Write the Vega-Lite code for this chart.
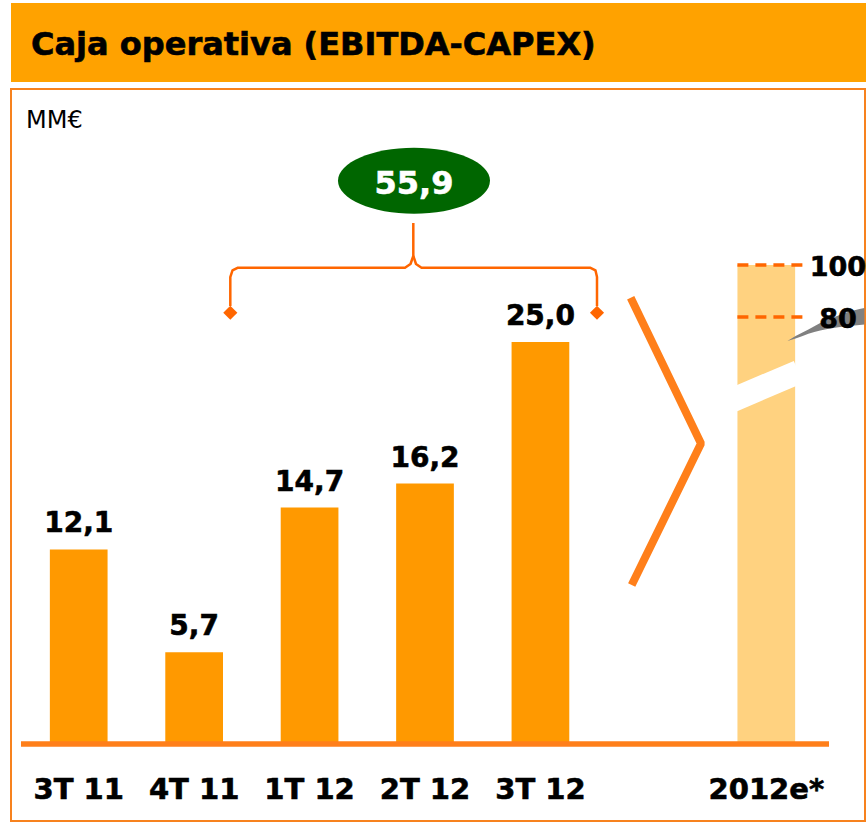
{
  "$schema": "https://vega.github.io/schema/vega-lite/v6.json",
  "padding": {"left": 10, "top": 3, "right": 0, "bottom": 0},
  "background": "white",
  "config": {
    "locale": {"number": {"decimal": ",", "thousands": ".", "grouping": [3], "currency": ["", " €"]}},
    "view": {"stroke": null},
    "font": "DejaVu Sans"
  },
  "datasets": {
    "trimestres": [
      {"periodo": "3T 11", "anio": 2011, "valor": 12.1},
      {"periodo": "4T 11", "anio": 2011, "valor": 5.7},
      {"periodo": "1T 12", "anio": 2012, "valor": 14.7},
      {"periodo": "2T 12", "anio": 2012, "valor": 16.2},
      {"periodo": "3T 12", "anio": 2012, "valor": 25.0}
    ],
    "estimacion": [
      {"periodo": "2012e*", "min": 80, "max": 100}
    ]
  },
  "spacing": 6,
  "vconcat": [
    {
      "width": 856,
      "height": 79,
      "view": {"fill": "#FFA200", "stroke": null},
      "data": {"values": [{"titulo": "Caja operativa (EBITDA-CAPEX)"}]},
      "mark": {"type": "text", "font": "DejaVu Sans", "fontWeight": "bold", "fontSize": 32, "align": "left", "baseline": "alphabetic", "color": "black", "stroke": "black", "strokeWidth": 0.6},
      "encoding": {
        "text": {"field": "titulo", "type": "nominal"},
        "x": {"value": 20},
        "y": {"value": 52}
      }
    },
    {
      "width": 854,
      "height": 732,
      "view": {"stroke": "#F7821E", "strokeWidth": 2, "fill": "white"},
      "resolve": {"scale": {"x": "independent", "y": "independent"}, "axis": {"x": "independent", "y": "independent"}},
      "layer": [
        {
          "data": {"name": "trimestres"},
          "encoding": {
            "x": {
              "field": "periodo", "type": "nominal", "sort": null,
              "scale": {"domain": ["3T 11", "4T 11", "1T 12", "2T 12", "3T 12", " ", "2012e*"], "range": [10, 818], "paddingInner": 0.5, "paddingOuter": 0.25},
              "axis": null
            },
            "y": {"field": "valor", "type": "quantitative", "scale": {"domain": [0, 25], "range": [655, 253], "nice": false, "zero": false}, "axis": null}
          },
          "layer": [
            {"mark": {"type": "bar", "color": "#FF9900"}},
            {
              "mark": {"type": "text", "font": "DejaVu Sans", "fontWeight": "bold", "fontSize": 28, "baseline": "alphabetic", "dy": -17, "color": "black", "stroke": "black", "strokeWidth": 0.6},
              "encoding": {"text": {"field": "valor", "type": "quantitative", "format": ".1f"}}
            },
            {
              "mark": {"type": "text", "font": "DejaVu Sans", "fontWeight": "bold", "fontSize": 29, "baseline": "alphabetic", "color": "black", "stroke": "black", "strokeWidth": 0.6},
              "encoding": {
                "y": {"datum": -3.4, "type": "quantitative"},
                "text": {"field": "periodo", "type": "nominal"}
              }
            }
          ]
        },
        {
          "layer": [
            {
              "data": {"name": "estimacion"},
              "mark": {"type": "bar", "color": "#FFD280", "width": 57.7},
              "encoding": {
                "x": {"datum": 6, "type": "quantitative", "scale": {"domain": [0, 6], "range": [67.71, 760.29], "nice": false, "zero": false}, "axis": null},
                "y": {"field": "max", "type": "quantitative", "scale": {"domain": [0, 80, 100], "range": [655, 228, 176], "nice": false, "zero": false}, "axis": null},
                "y2": {"datum": 0}
              }
            },
            {
              "data": {"values": [{"x": 5.703, "y": 64.43}, {"x": 6.2834, "y": 69.71}]},
              "mark": {"type": "line", "color": "white", "strokeWidth": 24, "strokeCap": "butt"},
              "encoding": {
                "x": {"field": "x", "type": "quantitative", "scale": {"domain": [0, 6], "range": [67.71, 760.29], "nice": false, "zero": false}, "axis": null},
                "y": {"field": "y", "type": "quantitative", "scale": {"domain": [0, 80, 100], "range": [655, 228, 176], "nice": false, "zero": false}, "axis": null}
              }
            },
            {
              "data": {"name": "estimacion"},
              "transform": [{"fold": ["max", "min"], "as": ["lim", "v"]}],
              "mark": {"type": "rule", "color": "#FF6600", "strokeWidth": 3.5, "strokeDash": [11, 7]},
              "encoding": {
                "x": {"datum": 5.746, "type": "quantitative", "scale": {"domain": [0, 6], "range": [67.71, 760.29], "nice": false, "zero": false}, "axis": null},
                "x2": {"datum": 6.3267},
                "y": {"field": "v", "type": "quantitative", "scale": {"domain": [0, 80, 100], "range": [655, 228, 176], "nice": false, "zero": false}, "axis": null}
              }
            },
            {
              "data": {"values": [
                {"x": 6.1855, "top": 75.5, "bottom": 75.5},
                {"x": 6.2574, "top": 76.44, "bottom": 75.97},
                {"x": 6.37, "top": 77.66, "bottom": 76.87},
                {"x": 6.474, "top": 78.88, "bottom": 77.47},
                {"x": 6.578, "top": 79.81, "bottom": 77.88},
                {"x": 6.6891, "top": 81.54, "bottom": 78.22},
                {"x": 6.8624, "top": 83.46, "bottom": 78.59}
              ]},
              "mark": {"type": "area", "color": "#808080", "opacity": 1, "interpolate": "monotone"},
              "encoding": {
                "x": {"field": "x", "type": "quantitative", "scale": {"domain": [0, 6], "range": [67.71, 760.29], "nice": false, "zero": false}, "axis": null},
                "y": {"field": "top", "type": "quantitative", "scale": {"domain": [0, 80, 100], "range": [655, 228, 176], "nice": false, "zero": false}, "axis": null},
                "y2": {"field": "bottom"}
              }
            },
            {
              "data": {"name": "estimacion"},
              "transform": [{"fold": ["max", "min"], "as": ["lim", "v"]}],
              "mark": {"type": "text", "font": "DejaVu Sans", "fontWeight": "bold", "fontSize": 27, "align": "center", "baseline": "middle", "dy": 2.5, "color": "black", "stroke": "black", "strokeWidth": 0.6},
              "encoding": {
                "x": {"datum": 6.63, "type": "quantitative", "scale": {"domain": [0, 6], "range": [67.71, 760.29], "nice": false, "zero": false}, "axis": null},
                "y": {"field": "v", "type": "quantitative", "scale": {"domain": [0, 80, 100], "range": [655, 228, 176], "nice": false, "zero": false}, "axis": null},
                "text": {"field": "v", "type": "quantitative", "format": "d"}
              }
            },
            {
              "data": {"name": "estimacion"},
              "mark": {"type": "text", "font": "DejaVu Sans", "fontWeight": "bold", "fontSize": 29, "align": "center", "baseline": "alphabetic", "color": "black", "stroke": "black", "strokeWidth": 0.6},
              "encoding": {
                "x": {"datum": 6, "type": "quantitative", "scale": {"domain": [0, 6], "range": [67.71, 760.29], "nice": false, "zero": false}, "axis": null},
                "y": {"datum": -10.25, "type": "quantitative", "scale": {"domain": [0, 80, 100], "range": [655, 228, 176], "nice": false, "zero": false}, "axis": null},
                "text": {"field": "periodo", "type": "nominal"}
              }
            }
          ]
        },
        {
          "layer": [
            {
              "data": {"values": [
                {"seg": "L", "ord": 1, "x": 1.3133, "y": 27.24},
                {"seg": "L", "ord": 2, "x": 1.3133, "y": 29.04},
                {"seg": "L", "ord": 3, "x": 1.3323, "y": 29.45},
                {"seg": "L", "ord": 4, "x": 1.38, "y": 29.62},
                {"seg": "L", "ord": 5, "x": 2.8268, "y": 29.62},
                {"seg": "L", "ord": 6, "x": 2.8744, "y": 29.85},
                {"seg": "L", "ord": 7, "x": 2.8987, "y": 30.35},
                {"seg": "L", "ord": 8, "x": 2.8987, "y": 32.4},
                {"seg": "R", "ord": 1, "x": 2.8987, "y": 30.35},
                {"seg": "R", "ord": 2, "x": 2.922, "y": 29.85},
                {"seg": "R", "ord": 3, "x": 2.9697, "y": 29.62},
                {"seg": "R", "ord": 4, "x": 4.4295, "y": 29.62},
                {"seg": "R", "ord": 5, "x": 4.4771, "y": 29.45},
                {"seg": "R", "ord": 6, "x": 4.4901, "y": 29.04},
                {"seg": "R", "ord": 7, "x": 4.4901, "y": 27.24}
              ]},
              "mark": {"type": "line", "color": "#FF6600", "strokeWidth": 2.5, "strokeJoin": "round"},
              "encoding": {
                "x": {"field": "x", "type": "quantitative", "scale": {"domain": [0, 6], "range": [67.71, 760.29], "nice": false, "zero": false}, "axis": null},
                "y": {"field": "y", "type": "quantitative", "scale": {"domain": [0, 25], "range": [655, 253], "nice": false, "zero": false}, "axis": null},
                "detail": {"field": "seg", "type": "nominal"},
                "order": {"field": "ord", "type": "quantitative"}
              }
            },
            {
              "data": {"values": [{"x": 1.3133, "y": 26.82}, {"x": 4.4901, "y": 26.82}]},
              "mark": {"type": "point", "shape": "diamond", "filled": true, "size": 200, "color": "#FF6600", "opacity": 1},
              "encoding": {
                "x": {"field": "x", "type": "quantitative", "scale": {"domain": [0, 6], "range": [67.71, 760.29], "nice": false, "zero": false}, "axis": null},
                "y": {"field": "y", "type": "quantitative", "scale": {"domain": [0, 25], "range": [655, 253], "nice": false, "zero": false}, "axis": null}
              }
            },
            {
              "data": {"name": "trimestres"},
              "transform": [
                {"filter": "datum.anio == 2012"},
                {"aggregate": [{"op": "sum", "field": "valor", "as": "total"}]}
              ],
              "encoding": {
                "x": {"datum": 2.9047, "type": "quantitative", "scale": {"domain": [0, 6], "range": [67.71, 760.29], "nice": false, "zero": false}, "axis": null},
                "y": {"datum": 35.03, "type": "quantitative", "scale": {"domain": [0, 25], "range": [655, 253], "nice": false, "zero": false}, "axis": null}
              },
              "layer": [
                {
                  "mark": {"type": "point", "shape": "M -1 0 C -1 -0.2397 -0.5523 -0.434 0 -0.434 C 0.5523 -0.434 1 -0.2397 1 0 C 1 0.2397 0.5523 0.434 0 0.434 C -0.5523 0.434 -1 0.2397 -1 0 Z", "filled": true, "size": 23104, "color": "#006600", "opacity": 1, "strokeWidth": 0}
                },
                {
                  "mark": {"type": "text", "font": "DejaVu Sans", "fontWeight": "bold", "fontSize": 32, "align": "center", "baseline": "alphabetic", "dy": 13.6, "color": "white", "stroke": "white", "strokeWidth": 0.6},
                  "encoding": {"text": {"field": "total", "type": "quantitative", "format": ".1f"}}
                }
              ]
            },
            {
              "data": {"values": [
                {"ord": 1, "x": 4.782, "y": 27.755},
                {"ord": 2, "x": 5.391, "y": 18.688},
                {"ord": 3, "x": 4.7907, "y": 9.888}
              ]},
              "mark": {"type": "line", "color": "#FF7F1A", "strokeWidth": 8, "strokeJoin": "bevel", "strokeCap": "butt"},
              "encoding": {
                "x": {"field": "x", "type": "quantitative", "scale": {"domain": [0, 6], "range": [67.71, 760.29], "nice": false, "zero": false}, "axis": null},
                "y": {"field": "y", "type": "quantitative", "scale": {"domain": [0, 25], "range": [655, 253], "nice": false, "zero": false}, "axis": null},
                "order": {"field": "ord", "type": "quantitative"}
              }
            },
            {
              "data": {"values": [{"unidad": "MM€"}]},
              "mark": {"type": "text", "font": "DejaVu Sans", "fontSize": 24, "align": "left", "baseline": "alphabetic", "color": "black"},
              "encoding": {
                "x": {"datum": -0.4566, "type": "quantitative", "scale": {"domain": [0, 6], "range": [67.71, 760.29], "nice": false, "zero": false}, "axis": null},
                "y": {"datum": 38.33, "type": "quantitative", "scale": {"domain": [0, 25], "range": [655, 253], "nice": false, "zero": false}, "axis": null},
                "text": {"field": "unidad", "type": "nominal"}
              }
            },
            {
              "data": {"values": [{}]},
              "mark": {"type": "rule", "color": "#FF7F1A", "strokeWidth": 5.5},
              "encoding": {
                "x": {"datum": -0.5, "type": "quantitative", "scale": {"domain": [0, 6], "range": [67.71, 760.29], "nice": false, "zero": false}, "axis": null},
                "x2": {"datum": 6.5},
                "y": {"datum": 0, "type": "quantitative", "scale": {"domain": [0, 25], "range": [655, 253], "nice": false, "zero": false}, "axis": null}
              }
            }
          ]
        }
      ]
    }
  ]
}
